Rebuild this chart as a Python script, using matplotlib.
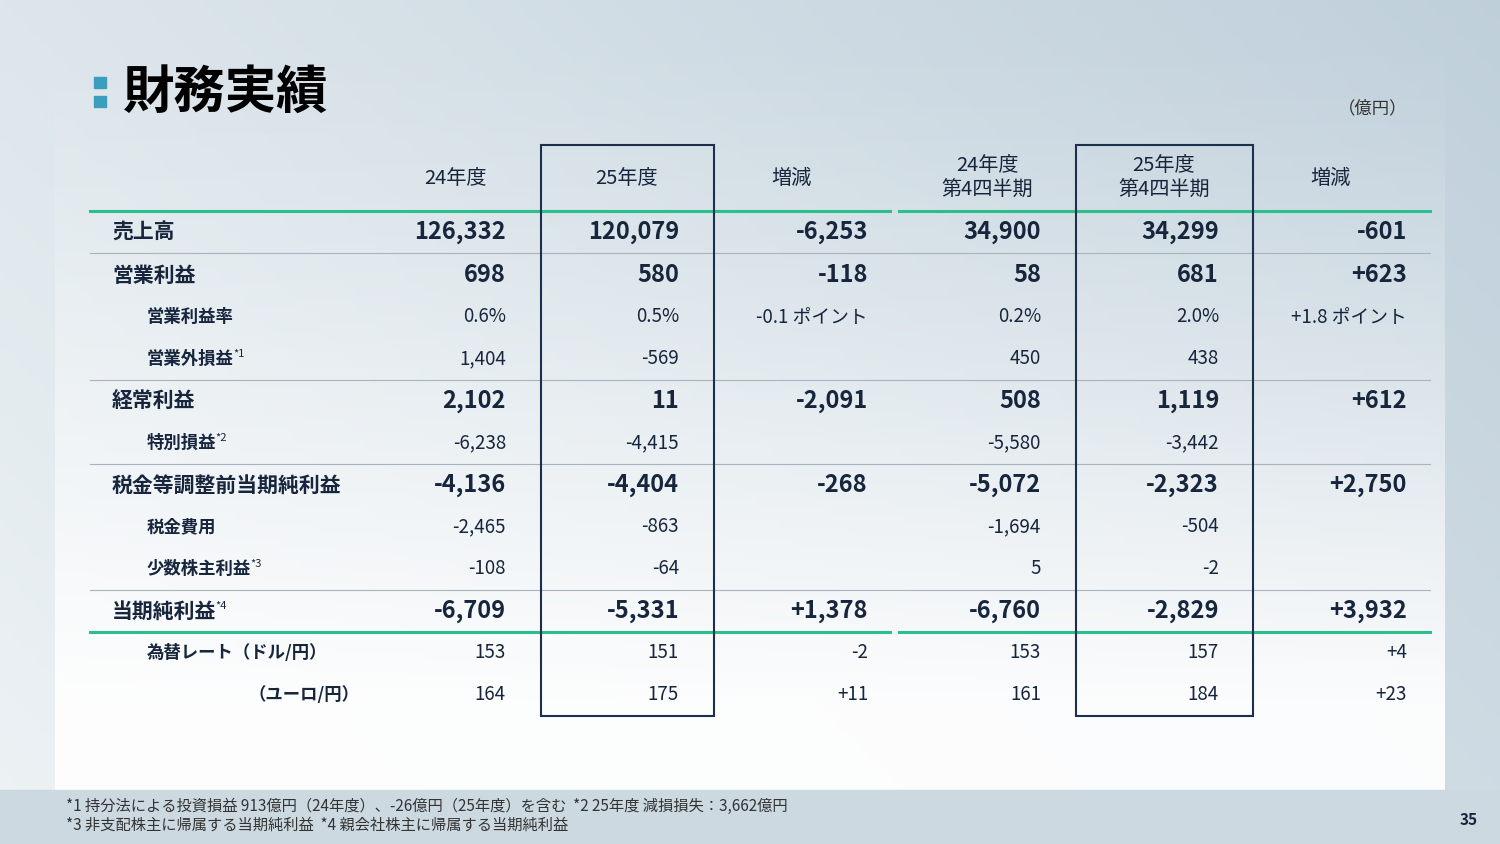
import matplotlib.pyplot as plt
import numpy as np
from matplotlib.patches import Rectangle

plt.rcParams['font.family'] = ['Noto Sans CJK JP', 'DejaVu Sans']

title = "財務実績"
unit = "（億円）"
headers = ["24年度", "25年度", "増減", "24年度\n第4四半期", "25年度\n第4四半期", "増減"]
row_labels = ["売上高", "営業利益", "営業利益率", "営業外損益", "経常利益", "特別損益",
              "税金等調整前当期純利益", "税金費用", "少数株主利益", "当期純利益",
              "為替レート（ドル/円）", "（ユーロ/円）"]
row_notes = ["", "", "", "*1", "", "*2", "", "", "*3", "*4", "", ""]
row_main = [True, True, False, False, True, False, True, False, False, True, False, False]
fy24 = ["126,332", "698", "0.6%", "1,404", "2,102", "-6,238", "-4,136", "-2,465", "-108", "-6,709", "153", "164"]
fy25 = ["120,079", "580", "0.5%", "-569", "11", "-4,415", "-4,404", "-863", "-64", "-5,331", "151", "175"]
fy_diff = ["-6,253", "-118", "-0.1 ポイント", "", "-2,091", "", "-268", "", "", "+1,378", "-2", "+11"]
q24 = ["34,900", "58", "0.2%", "450", "508", "-5,580", "-5,072", "-1,694", "5", "-6,760", "153", "161"]
q25 = ["34,299", "681", "2.0%", "438", "1,119", "-3,442", "-2,323", "-504", "-2", "-2,829", "157", "184"]
q_diff = ["-601", "+623", "+1.8 ポイント", "", "+612", "", "+2,750", "", "", "+3,932", "+4", "+23"]
footnotes = ["*1 持分法による投資損益 913億円（24年度）、-26億円（25年度）を含む  *2 25年度 減損損失：3,662億円",
             "*3 非支配株主に帰属する当期純利益  *4 親会社株主に帰属する当期純利益"]
page = "35"

W, H = 1500, 844
fig = plt.figure(figsize=(15, 8.44), dpi=100)
ax = fig.add_axes([0, 0, 1, 1])
ax.set_xlim(0, W)
ax.set_ylim(H, 0)
ax.axis("off")

# background gradient
gx = np.linspace(0, 1, 300)
gy = np.linspace(0, 1, 200)
GX, GY = np.meshgrid(gx, gy)
c1 = np.array([0.93, 0.95, 0.96])
c2 = np.array([0.72, 0.79, 0.84])
t = np.clip(0.55 * GX + 0.3 * (1 - GY), 0, 1)[..., None]
bg = c1 * (1 - t) + c2 * t
ax.imshow(bg, extent=[0, W, H, 0], aspect="auto", zorder=0)
# panel fading to white at bottom
pg = np.linspace(0, 1, 200)[:, None, None] * np.ones((1, 10, 1))
panel = np.concatenate([np.ones((200, 10, 3)), np.clip(pg ** 1.5 * 1.1, 0, 0.93)], axis=2)
ax.imshow(panel, extent=[55, 1445, 790, 0], aspect="auto", zorder=1)
ax.add_patch(Rectangle((0, 790), W, 54, color="#cdd9e1", zorder=1))

navy = "#17263d"
ax.add_patch(Rectangle((94, 77), 12, 11, color="#3c9dbd", zorder=3))
ax.add_patch(Rectangle((94, 96), 12, 11, color="#3c9dbd", zorder=3))
ax.text(123, 92, title, fontsize=37, fontweight="bold", color="black", va="center", zorder=3)
ax.text(1373, 108, unit, fontsize=12.5, color="#333", ha="center", va="center", zorder=3)

col_right = [506, 679, 868, 1041, 1219, 1407]
col_center = [455, 627, 791, 987, 1164, 1330]
row_y = [232, 275, 317, 359, 401, 443, 485, 527, 569, 611, 653, 695]

for xc, h in zip(col_center, headers):
    ax.text(xc, 178, h, fontsize=14.5, color=navy, ha="center", va="center",
            linespacing=1.2, zorder=3)

cols = [fy24, fy25, fy_diff, q24, q25, q_diff]
for i, y in enumerate(row_y):
    main = row_main[i]
    fs = 17 if main else 13.5
    fw = "bold" if main else "normal"
    if i == 11:
        lx = 248
    else:
        lx = 112 if main else 147
    lab = ax.text(lx, y, row_labels[i], fontsize=15 if main else 12.5, fontweight="bold",
                  color=navy, va="center", zorder=3)
    if row_notes[i]:
        fig.canvas.draw()
        xe = lab.get_window_extent().x1
        ax.text(xe - 1, y - 5, row_notes[i], fontsize=8, color=navy, va="center", zorder=3)
    for xr, col in zip(col_right, cols):
        ax.text(xr, y, col[i], fontsize=fs, fontweight=fw, color=navy,
                ha="right", va="center", zorder=3)

green = "#2bbf8e"
for y in (211, 632):
    ax.plot([90, 890], [y, y], color=green, lw=2.2, zorder=3)
    ax.plot([899, 1430], [y, y], color=green, lw=2.2, zorder=3)
for y in (253, 380, 464, 590):
    ax.plot([90, 1430], [y, y], color="#a8b3bd", lw=0.8, zorder=2)

for x0 in (541, 1076):
    ax.add_patch(Rectangle((x0, 145), 173 if x0 == 541 else 177, 571, fill=False,
                           ec="#1c2f4d", lw=1.5, zorder=4))

for k, fn in enumerate(footnotes):
    ax.text(66, 806 + k * 19, fn, fontsize=11, color="#333", va="center", zorder=3)
ax.text(1478, 820, page, fontsize=11, fontweight="bold", color=navy, ha="right",
        va="center", zorder=3)

fig.savefig("out.png", dpi=100)
